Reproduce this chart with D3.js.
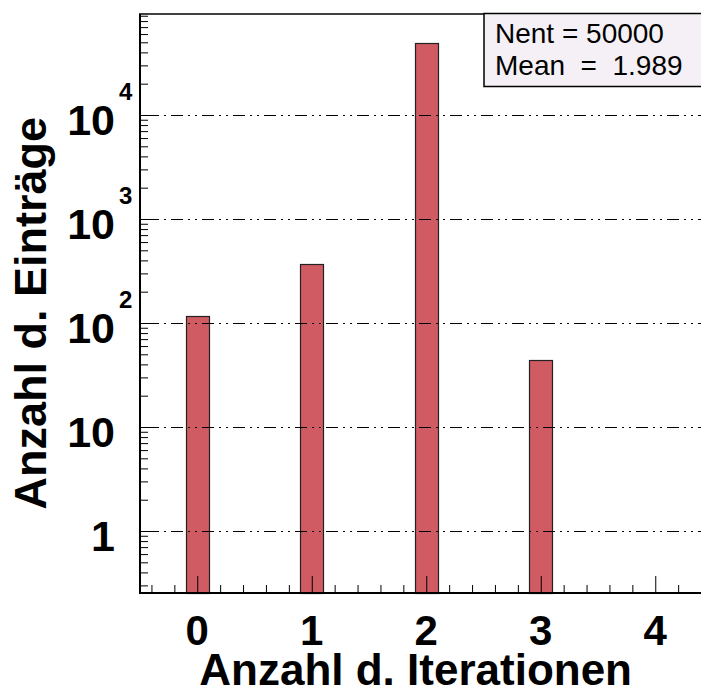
<!DOCTYPE html>
<html>
<head>
<meta charset="utf-8">
<script src="https://cdn.jsdelivr.net/npm/d3@7"></script>
<style>
  html, body { margin: 0; padding: 0; background: #ffffff; }
  svg { display: block; }
  text { font-family: "Liberation Sans", Arial, Helvetica, sans-serif; }
</style>
</head>
<body>
<script>
// ---- data ----
const categories = [0, 1, 2, 3, 4];
const counts = [117, 369, 49470, 44, 0];
const xTickLabels = ["0", "1", "2", "3", "4"];
const yDecades = [0, 1, 2, 3, 4];          // 10^k
const statsLabels = ["Nent = 50000", "Mean  =  1.989"];
const xTitle = "Anzahl d. Iterationen";
const yTitle = "Anzahl d. Einträge";

(function () {
const W = 701, H = 691;
const padL = 140, padT = 14, padB = 593;

const svg = d3.select("body").append("svg")
  .attr("width", W).attr("height", H)
  .style("background", "#fff");

const x = d3.scaleLinear().domain([-0.5, 4.5]).range([padL, 712.5]);
const y = d3.scaleLog().domain([Math.pow(10, -0.596), Math.pow(10, 4.971)]).range([padB, padT]);

const barW = 0.2;

// bars
svg.append("g").selectAll("rect")
  .data(categories.map((c, i) => ({c, v: counts[i]})).filter(d => d.v > 0))
  .join("rect")
  .attr("x", d => Math.round(x(d.c - barW / 2)) + 0.5)
  .attr("width", d => Math.round(x(d.c + barW / 2) - x(d.c - barW / 2)))
  .attr("y", d => Math.round(y(d.v)) + 0.5)
  .attr("height", d => padB - Math.round(y(d.v)))
  .attr("fill", "#d05b63")
  .attr("stroke", "#222")
  .attr("stroke-width", 1.2);

// grid lines (dash-dot-dot)
svg.append("g").selectAll("line")
  .data(yDecades)
  .join("line")
  .attr("x1", padL).attr("x2", W)
  .attr("y1", d => Math.round(y(Math.pow(10, d))) + 0.5)
  .attr("y2", d => Math.round(y(Math.pow(10, d))) + 0.5)
  .attr("stroke", "#000").attr("stroke-width", 1)
  .attr("stroke-dasharray", "12,5,2,5,2,5");

// y axis ticks (inside)
const yMinor = y.ticks().filter(v => !yDecades.some(k => Math.abs(Math.pow(10, k) - v) < 1e-9));
const yMinorAxis = d3.axisRight(y).tickValues(yMinor).tickSize(8).tickFormat("");
const yMajorAxis = d3.axisRight(y).tickValues(yDecades.map(k => Math.pow(10, k))).tickSize(17).tickFormat("");
[yMinorAxis, yMajorAxis].forEach(ax => {
  const g = svg.append("g").attr("transform", `translate(${padL},0)`).call(ax);
  g.select(".domain").remove();
  g.selectAll("line").attr("stroke", "#000").attr("stroke-width", 1);
});

// x axis ticks (inside, upward)
const xMinor = x.ticks(25).filter(v => Math.abs(v - Math.round(v)) > 1e-9);
const xMinorAxis = d3.axisTop(x).tickValues(xMinor).tickSize(8).tickFormat("");
const xMajorAxis = d3.axisTop(x).tickValues(categories).tickSize(17).tickFormat("");
[xMinorAxis, xMajorAxis].forEach(ax => {
  const g = svg.append("g").attr("transform", `translate(0,${padB})`).call(ax);
  g.select(".domain").remove();
  g.selectAll("line").attr("stroke", "#000").attr("stroke-width", 1);
});

// frame lines
svg.append("line").attr("x1", padL).attr("x2", padL).attr("y1", padT).attr("y2", padB + 1)
  .attr("stroke", "#000").attr("stroke-width", 2);
svg.append("line").attr("x1", padL - 1).attr("x2", W).attr("y1", padB).attr("y2", padB)
  .attr("stroke", "#000").attr("stroke-width", 2);
svg.append("line").attr("x1", padL - 1).attr("x2", W).attr("y1", padT).attr("y2", padT)
  .attr("stroke", "#000").attr("stroke-width", 1.5);

// x tick labels
svg.append("g").selectAll("text")
  .data(categories)
  .join("text")
  .attr("x", d => x(d)).attr("y", 645)
  .attr("text-anchor", "middle")
  .attr("font-size", 42).attr("font-weight", "bold")
  .text((d, i) => xTickLabels[i]);

// y tick labels
const yl = svg.append("g");
yDecades.forEach(k => {
  const yy = y(Math.pow(10, k));
  const base = k === 0 ? "1" : "10";
  yl.append("text")
    .attr("x", 115).attr("y", yy + 20)
    .attr("text-anchor", "end")
    .attr("font-size", 43).attr("font-weight", "bold")
    .text(base);
  if (k >= 2) {
    yl.append("text")
      .attr("x", 119).attr("y", yy - 15)
      .attr("font-size", 24).attr("font-weight", "bold")
      .text(String(k));
  }
});

// axis titles
svg.append("text")
  .attr("x", 632).attr("y", 685)
  .attr("text-anchor", "end")
  .attr("font-size", 44).attr("font-weight", "bold")
  .text(xTitle);

svg.append("text")
  .attr("transform", "translate(46,117) rotate(-90)")
  .attr("text-anchor", "end")
  .attr("font-size", 45).attr("font-weight", "bold")
  .text(yTitle);

// stats box
svg.append("rect")
  .attr("x", 484).attr("y", 13.5).attr("width", 240).attr("height", 73)
  .attr("fill", "#f5f0f5").attr("stroke", "#000").attr("stroke-width", 1.5);
svg.append("g").selectAll("text")
  .data(statsLabels)
  .join("text")
  .attr("x", 495).attr("y", (d, i) => 43 + i * 32)
  .attr("font-size", 28)
  .style("white-space", "pre")
  .attr("xml:space", "preserve")
  .text(d => d);
})();
</script>
</body>
</html>
